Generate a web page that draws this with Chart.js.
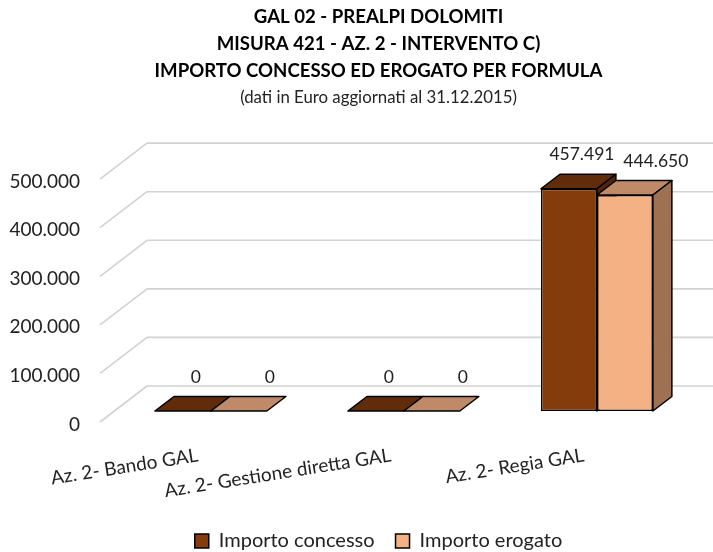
<!DOCTYPE html>
<html>
<head>
<meta charset="utf-8">
<script src="https://cdn.jsdelivr.net/npm/chart.js@4/dist/chart.umd.min.js"></script>
<style>
  html, body { margin: 0; padding: 0; background: #ffffff; }
  #wrap { position: relative; width: 713px; height: 552px; }
</style>
</head>
<body>
<div id="wrap"><canvas id="c"></canvas></div>
<script>
// ---------- data ----------
const categories = ['Az. 2- Bando GAL', 'Az. 2- Gestione diretta GAL', 'Az. 2- Regia GAL'];
const seriesNames = ['Importo concesso', 'Importo erogato'];
const importoConcesso = [0, 0, 457491];
const importoErogato = [0, 0, 444650];
const yTickValues = [0, 100000, 200000, 300000, 400000, 500000];
const titleLines = ['GAL 02 - PREALPI DOLOMITI', 'MISURA 421 - AZ. 2 - INTERVENTO C)', 'IMPORTO CONCESSO ED EROGATO PER FORMULA'];
const subtitleText = '(dati in Euro aggiornati al 31.12.2015)';

// ---------- styling ----------
const FONT = 'Lato';
const TEXT = '#222222';
const GRID = '#d2d2d2';
const front = ['#843C0C', '#F4B183'];
const topFace = ['#602C0A', '#BF8A68'];
const sideFace = ['#52250A', '#9E7152'];

// 3D geometry (pixels): bar plane -> front plane / back wall, bar depth
const toFront = { dx: -14.4, dy: 11 };
const toBack = { dx: 32.6, dy: -25 };
const barDepth = { dx: 19, dy: -14.5 };
const CHART_BOTTOM = 411;   // bar-plane baseline
const PLOT_LEFT = 114.4;
const PLOT_RIGHT_GAP = 19.6;
const PAD_LEFT = 44;
const PAD_BOTTOM = -9;

function fmt(v) {
  return String(Math.round(v)).replace(/\B(?=(\d{3})+(?!\d))/g, '.');
}

const wallPlugin = {
  id: 'wall3d',
  beforeDatasetsDraw(chart) {
    const ctx = chart.ctx;
    const y = chart.scales.y;
    const area = chart.chartArea;
    ctx.save();
    ctx.strokeStyle = GRID;
    ctx.lineWidth = 1.6;
    yTickValues.forEach(v => {
      const py = y.getPixelForValue(v);
      // left wall diagonal
      ctx.beginPath();
      ctx.moveTo(area.left + toFront.dx, py + toFront.dy);
      ctx.lineTo(area.left + toBack.dx, py + toBack.dy);
      ctx.stroke();
      // back wall line
      ctx.beginPath();
      ctx.moveTo(area.left + toBack.dx, py + toBack.dy);
      ctx.lineTo(area.right + toBack.dx, py + toBack.dy);
      ctx.stroke();
    });
    // top and side faces of the bars
    ctx.lineWidth = 1.5;
    ctx.strokeStyle = '#000';
    ctx.lineJoin = 'round';
    const n = chart.data.labels.length;
    for (let j = 0; j < n; j++) {
      chart.data.datasets.forEach((ds, i) => {
        const el = chart.getDatasetMeta(i).data[j];
        if (!el) return;
        const L = el.x - el.width / 2, R = el.x + el.width / 2;
        const t = el.y, b = el.base;
        // top face
        ctx.beginPath();
        ctx.moveTo(L, t);
        ctx.lineTo(R, t);
        ctx.lineTo(R + barDepth.dx, t + barDepth.dy);
        ctx.lineTo(L + barDepth.dx, t + barDepth.dy);
        ctx.closePath();
        ctx.fillStyle = topFace[i];
        ctx.fill();
        ctx.stroke();
        // side face
        if (b - t > 1) {
          ctx.beginPath();
          ctx.moveTo(R, t);
          ctx.lineTo(R + barDepth.dx, t + barDepth.dy);
          ctx.lineTo(R + barDepth.dx, b + barDepth.dy);
          ctx.lineTo(R, b);
          ctx.closePath();
          ctx.fillStyle = sideFace[i];
          ctx.fill();
          ctx.stroke();
        }
      });
    }
    ctx.restore();
  },
  afterDatasetsDraw(chart) {
    const ctx = chart.ctx;
    const labelShift = [13, 31];
    ctx.save();
    ctx.font = '17.5px ' + FONT;
    ctx.fillStyle = TEXT;
    ctx.textAlign = 'center';
    ctx.textBaseline = 'middle';
    chart.data.datasets.forEach((ds, i) => {
      chart.getDatasetMeta(i).data.forEach((el, j) => {
        ctx.fillText(fmt(ds.data[j]), el.x + labelShift[i], el.y - 34);
      });
    });
    ctx.restore();
  }
};

new Chart(document.getElementById('c'), {
  type: 'bar',
  data: {
    labels: categories,
    datasets: [
      { label: seriesNames[0], data: importoConcesso, backgroundColor: front[0], borderColor: '#000', borderWidth: 1.5, borderSkipped: false },
      { label: seriesNames[1], data: importoErogato, backgroundColor: front[1], borderColor: '#000', borderWidth: 1.5, borderSkipped: false }
    ]
  },
  options: {
    responsive: true,
    maintainAspectRatio: false,
    animation: false,
    events: [],
    categoryPercentage: 0.58,
    barPercentage: 1.0,
    layout: { padding: { left: PAD_LEFT, right: 0, top: 0, bottom: PAD_BOTTOM } },
    plugins: {
      title: {
        display: true,
        text: titleLines,
        color: '#000',
        font: { family: FONT, size: 18.6, weight: 'bold', lineHeight: 1.45 },
        padding: { top: 4, bottom: 0 }
      },
      subtitle: {
        display: true,
        text: subtitleText,
        color: TEXT,
        font: { family: FONT, size: 16.8, lineHeight: 1.5 },
        padding: { top: 0, bottom: 58 }
      },
      legend: {
        position: 'bottom',
        labels: {
          font: { family: FONT, size: 20 },
          color: TEXT,
          boxWidth: 14,
          boxHeight: 14,
          padding: 21
        }
      },
      tooltip: { enabled: false }
    },
    scales: {
      x: {
        grid: { display: false, drawTicks: false },
        border: { display: false },
        ticks: {
          autoSkip: false,
          minRotation: 9,
          maxRotation: 9,
          padding: 33,
          labelOffset: -13,
          color: TEXT,
          font: { family: FONT, size: 19 }
        },
        afterFit(scale) {
          const ch = scale.chart;
          const legH = ch.legend ? ch.legend.height : 0;
          scale.height = ch.height - CHART_BOTTOM - legH - PAD_BOTTOM;
        }
      },
      y: {
        min: 0,
        max: 500000,
        grid: { display: false, drawTicks: false },
        border: { display: false },
        afterBuildTicks(scale) {
          scale.ticks = yTickValues.map(v => ({ value: v }));
        },
        ticks: {
          padding: PLOT_LEFT - 80,
          labelOffset: 13.5,
          color: TEXT,
          font: { family: FONT, size: 19 },
          callback: v => fmt(v)
        },
        afterFit(scale) {
          scale.width = PLOT_LEFT - PAD_LEFT;
          // tick labels reach left of the axis box; do not clip them
          scale._computeLabelArea = () => undefined;
        }
      },
      yRight: {
        position: 'right',
        display: true,
        grid: { display: false, drawTicks: false },
        border: { display: false },
        ticks: { display: false },
        afterFit(scale) { scale.width = PLOT_RIGHT_GAP; }
      }
    }
  },
  plugins: [wallPlugin]
});
</script>
</body>
</html>
